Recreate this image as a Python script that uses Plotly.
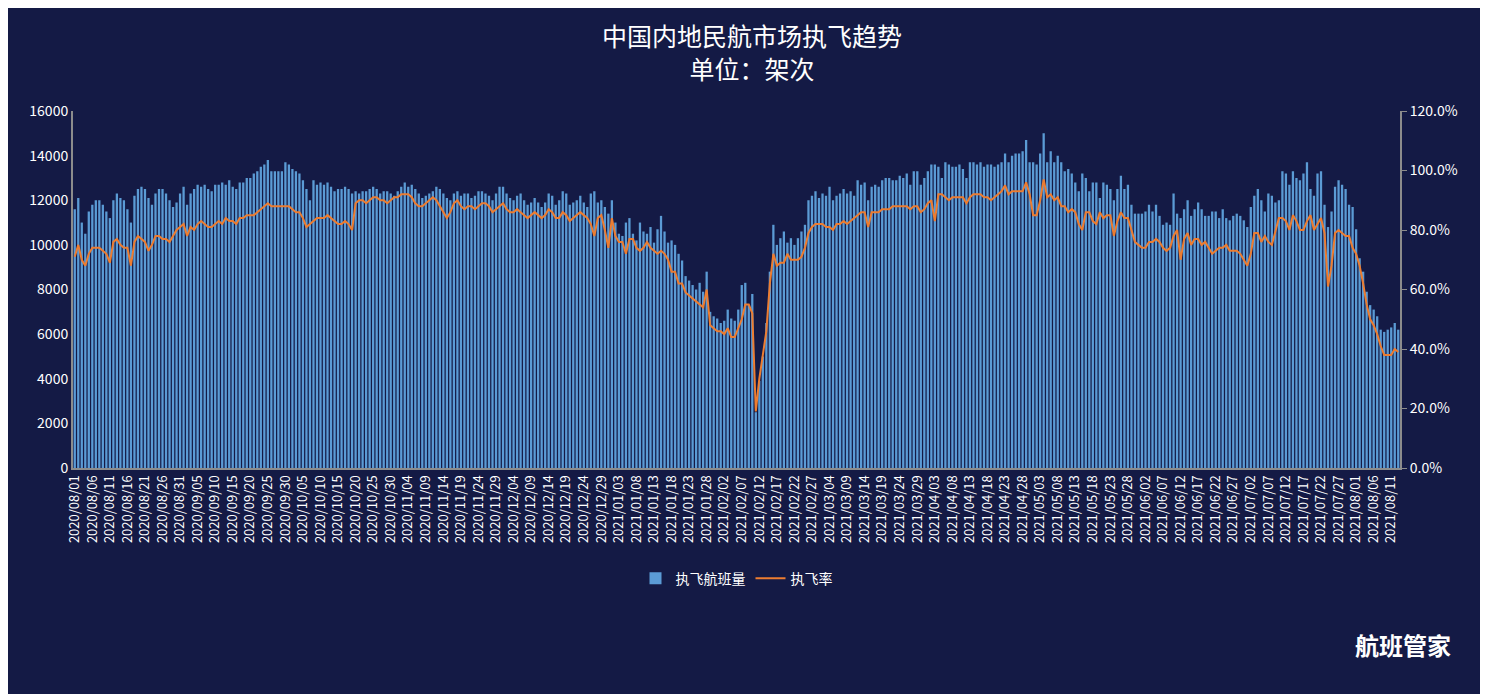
import pandas as pd
import plotly.graph_objects as go

flights_2020 = [
    # Aug
    11600,12100,11000,10500,11500,11800,12000,12000,11800,11500,11200,12000,12300,12100,12000,11600,11000,12200,12500,12600,12500,12100,11800,12300,12500,12500,12300,12000,11700,11900,12300,
    # Sep
    12600,11800,12300,12500,12700,12600,12700,12500,12400,12700,12700,12800,12700,12900,12600,12500,12800,12800,13000,13000,13200,13300,13500,13600,13800,13300,13300,13300,13300,13700,
    # Oct
    13600,13400,13300,13200,12900,12500,12000,12900,12700,12800,12700,12800,12600,12400,12500,12500,12600,12500,12300,12400,12300,12400,12400,12500,12600,12500,12300,12400,12400,12300,12200,
    # Nov
    12400,12600,12800,12600,12700,12500,12300,12100,12200,12300,12400,12600,12500,12300,12100,12000,12300,12400,12200,12300,12300,12100,12200,12400,12400,12300,12200,12000,12300,12600,
    # Dec
    12600,12300,12100,12000,12200,12300,12000,11800,11900,12100,11900,11700,11900,12300,12200,11800,12000,12400,12300,11800,11900,12000,12200,11900,11700,12300,12400,11900,12000,11700,11400,
]
flights_2021 = [
    # Jan
    12000,11000,10500,10400,11000,11200,10500,10200,11000,10600,10500,10800,10100,10700,11300,10600,10100,10200,10000,9600,9300,8600,8400,8200,8000,8300,7900,8800,7000,6800,6700,
    # Feb
    6500,6600,7100,6700,6600,7100,8200,8300,7300,7800,2500,3900,5000,6500,8800,10900,10000,10300,10600,10100,10300,10000,10300,10600,10900,12000,12200,12400,
    # Mar
    12100,12300,12200,12600,12000,12200,12300,12500,12300,12400,12200,12900,12700,12800,12000,12600,12700,12600,12900,13000,13000,12900,12900,13100,13000,13200,12700,13300,13300,12700,13000,
    # Apr
    13300,13600,13600,13500,13000,13700,13600,13500,13500,13600,13400,13000,13700,13700,13600,13700,13500,13600,13600,13500,13600,13700,14100,13700,14000,14100,14100,14200,14700,13700,
    # May
    13700,13600,14100,15000,13700,14200,13700,14000,13700,13300,13400,13200,12800,12400,13200,13000,12400,12800,12800,12100,12800,12700,12500,12000,12500,13100,12500,12700,11800,11400,11400,
    # Jun
    11400,11500,11800,11500,11800,11300,10900,11000,10900,12300,11400,11200,11600,12000,11300,11600,11900,11600,11300,11300,11500,11500,11200,11600,11200,11100,11300,11400,11300,11100,
    # Jul
    10800,11700,12200,12500,12000,11500,12300,12200,11900,12000,13300,13200,12700,13300,13000,12900,13200,13700,12500,12200,13200,13300,11800,10800,11500,12600,12900,12700,12500,11800,11700,
    # Aug
    10700,9400,8800,7900,7300,7100,6800,6200,6100,6200,6300,6500,6200,
]
rate_2020 = [
    0.71,0.75,0.70,0.68,0.72,0.74,0.74,0.74,0.73,0.72,0.69,0.76,0.77,0.75,0.74,0.74,0.68,0.76,0.78,0.77,0.76,0.73,0.75,0.78,0.78,0.77,0.77,0.76,0.78,0.80,0.81,
    0.82,0.78,0.81,0.80,0.82,0.83,0.82,0.81,0.81,0.82,0.83,0.82,0.84,0.83,0.83,0.82,0.84,0.84,0.85,0.85,0.85,0.86,0.87,0.88,0.89,0.88,0.88,0.88,0.88,0.88,
    0.88,0.87,0.86,0.86,0.84,0.81,0.82,0.83,0.84,0.84,0.84,0.85,0.84,0.83,0.82,0.82,0.83,0.82,0.80,0.89,0.90,0.90,0.89,0.90,0.91,0.91,0.90,0.90,0.89,0.90,0.91,
    0.91,0.92,0.92,0.92,0.91,0.89,0.88,0.88,0.89,0.90,0.91,0.90,0.88,0.86,0.84,0.86,0.89,0.90,0.88,0.87,0.88,0.88,0.87,0.88,0.89,0.89,0.88,0.86,0.87,0.88,
    0.89,0.87,0.86,0.86,0.87,0.86,0.85,0.84,0.85,0.86,0.85,0.84,0.85,0.87,0.86,0.84,0.84,0.86,0.85,0.83,0.84,0.85,0.86,0.85,0.84,0.82,0.78,0.84,0.85,0.80,0.74,
]
rate_2021 = [
    0.84,0.78,0.76,0.76,0.72,0.77,0.77,0.74,0.73,0.74,0.76,0.74,0.73,0.72,0.73,0.72,0.70,0.66,0.66,0.62,0.62,0.59,0.58,0.57,0.56,0.55,0.54,0.60,0.48,0.47,0.46,
    0.46,0.45,0.47,0.44,0.44,0.47,0.50,0.55,0.55,0.52,0.19,0.30,0.38,0.46,0.62,0.72,0.68,0.69,0.69,0.72,0.70,0.70,0.70,0.71,0.74,0.79,0.81,0.82,
    0.82,0.82,0.81,0.81,0.80,0.82,0.82,0.83,0.82,0.83,0.84,0.85,0.86,0.86,0.81,0.86,0.86,0.86,0.87,0.87,0.87,0.88,0.88,0.88,0.88,0.88,0.87,0.88,0.88,0.86,0.87,
    0.89,0.90,0.83,0.92,0.92,0.91,0.90,0.91,0.91,0.91,0.91,0.89,0.91,0.92,0.92,0.92,0.91,0.91,0.90,0.91,0.92,0.93,0.95,0.92,0.93,0.93,0.93,0.93,0.96,0.92,
    0.85,0.85,0.90,0.97,0.91,0.92,0.90,0.91,0.88,0.88,0.86,0.87,0.86,0.82,0.80,0.86,0.86,0.83,0.82,0.86,0.84,0.85,0.85,0.78,0.83,0.86,0.84,0.84,0.80,0.76,0.75,
    0.74,0.74,0.76,0.76,0.77,0.76,0.74,0.73,0.74,0.78,0.80,0.70,0.77,0.79,0.75,0.77,0.77,0.75,0.76,0.74,0.72,0.73,0.74,0.74,0.75,0.73,0.73,0.73,0.72,0.70,
    0.68,0.72,0.79,0.79,0.76,0.78,0.76,0.75,0.80,0.84,0.84,0.83,0.80,0.85,0.83,0.80,0.80,0.83,0.85,0.80,0.82,0.84,0.79,0.61,0.68,0.79,0.80,0.79,0.78,0.78,0.74,
    0.72,0.68,0.62,0.55,0.50,0.48,0.45,0.41,0.38,0.38,0.38,0.40,0.39,
]

flights = flights_2020 + flights_2021
rate = rate_2020 + rate_2021
n = min(len(flights), len(rate))
flights, rate = flights[:n], rate[:n]
dates = [d.strftime("%Y/%m/%d") for d in pd.date_range("2020-08-01", periods=n)]
tick_labels = dates[::5]

fig = go.Figure()
fig.add_trace(go.Bar(x=dates, y=flights, name="执飞航班量", marker_color="#5b9bd5",
                     marker_line_width=0))
fig.add_trace(go.Scatter(x=dates, y=rate, name="执飞率", yaxis="y2", mode="lines",
                         line=dict(color="#ed7d31", width=2)))

fig.update_layout(
    width=1488, height=694,
    paper_bgcolor="#141a45", plot_bgcolor="#141a45",
    font=dict(family="Noto Sans CJK SC", color="white", size=14),
    title=dict(text="中国内地民航市场执飞趋势<br>单位：架次", x=0.5, xanchor="center",
               y=0.945, yanchor="top", font=dict(size=25, color="white")),
    margin=dict(l=65, r=96, t=103, b=234),
    bargap=0.35,
    showlegend=True,
    legend=dict(orientation="h", x=0.5, xanchor="center", y=-0.265, yanchor="top",
                font=dict(size=14, color="white"), bgcolor="rgba(0,0,0,0)"),
    xaxis=dict(type="category", tickmode="array", tickvals=tick_labels, ticktext=tick_labels,
               tickangle=-90, tickfont=dict(size=13, color="white"), showgrid=False,
               showline=True, linecolor="#8c8c8c", linewidth=2, ticks=""),
    yaxis=dict(range=[0, 16000], dtick=2000, tickformat="d", showgrid=False, showline=True,
               linecolor="#8c8c8c", linewidth=2, tickfont=dict(size=14, color="white"),
               ticks="", zeroline=False),
    yaxis2=dict(range=[0, 1.2], dtick=0.2, tickformat=".1%", overlaying="y", side="right",
                showgrid=False, showline=True, linecolor="#8c8c8c", linewidth=2,
                ticks="outside", ticklen=5, tickcolor="#8c8c8c",
                tickfont=dict(size=14, color="white"), zeroline=False),
    annotations=[dict(text="<b>航班管家</b>", xref="paper", yref="paper", x=1.04, y=-0.44,
                      xanchor="right", yanchor="top", showarrow=False,
                      font=dict(size=24, color="white"))],
)
fig.write_html("out.html")
